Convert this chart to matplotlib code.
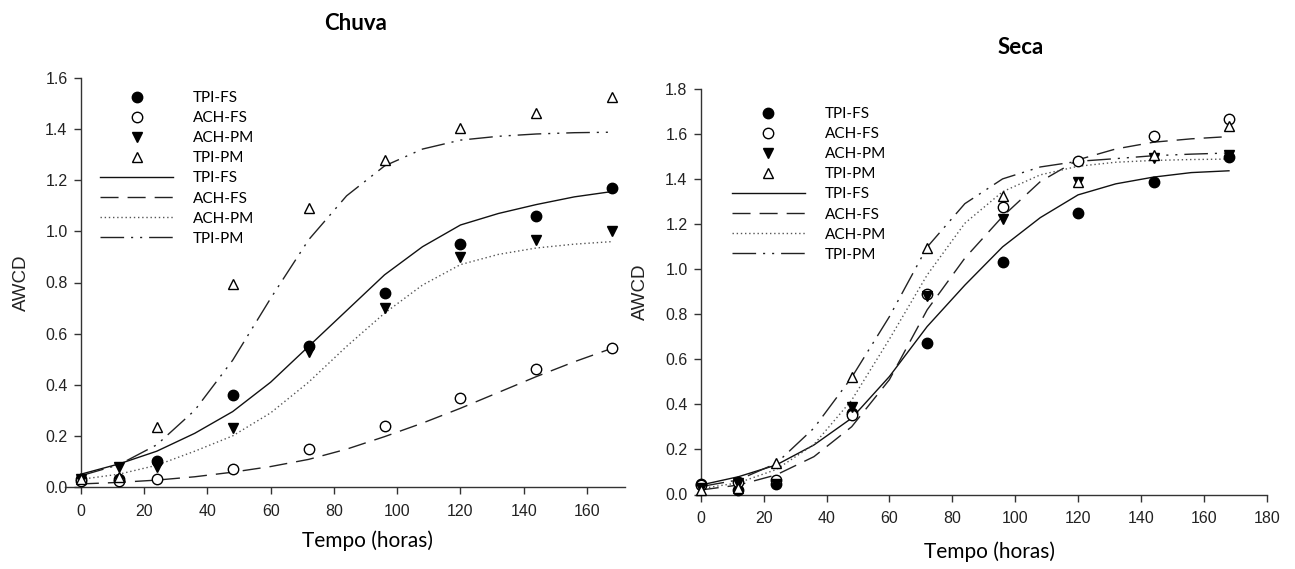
import numpy as np
import matplotlib
matplotlib.use('Agg')
import matplotlib.pyplot as plt

# sampling times (hours)
hours = [0, 12, 24, 48, 72, 96, 120, 144, 168]
hours_fit = [0, 12, 24, 36, 48, 60, 72, 84, 96, 108, 120, 132, 144, 156, 168]

# Chuva - observed AWCD
chuva_tpi_fs = [0.03, 0.03, 0.10, 0.36, 0.55, 0.76, 0.95, 1.06, 1.17]
chuva_ach_fs = [0.025, 0.025, 0.03, 0.07, 0.15, 0.24, 0.35, 0.46, 0.545]
chuva_ach_pm = [0.03, 0.078, 0.08, 0.23, 0.53, 0.70, 0.90, 0.965, 1.00]
chuva_tpi_pm = [0.03, 0.04, 0.235, 0.795, 1.093, 1.28, 1.404, 1.463, 1.524]

# Chuva - fitted curves
chuva_tpi_fs_fit = [0.05, 0.09, 0.14, 0.21, 0.295, 0.41, 0.55, 0.69, 0.83, 0.94, 1.025, 1.07, 1.105, 1.135, 1.156]
chuva_ach_fs_fit = [0.012, 0.018, 0.027, 0.04, 0.058, 0.08, 0.108, 0.148, 0.197, 0.25, 0.308, 0.37, 0.432, 0.49, 0.543]
chuva_ach_pm_fit = [0.03, 0.05, 0.085, 0.14, 0.20, 0.29, 0.41, 0.55, 0.68, 0.79, 0.87, 0.91, 0.935, 0.95, 0.96]
chuva_tpi_pm_fit = [0.044, 0.087, 0.165, 0.30, 0.496, 0.738, 0.967, 1.139, 1.256, 1.322, 1.357, 1.372, 1.381, 1.386, 1.388]

# Seca - observed AWCD
seca_tpi_fs = [0.045, 0.02, 0.047, 0.36, 0.672, 1.032, 1.25, 1.39, 1.499]
seca_ach_fs = [0.04, 0.055, 0.064, 0.353, 0.891, 1.275, 1.482, 1.593, 1.667]
seca_ach_pm = [0.03, 0.05, 0.045, 0.39, 0.882, 1.223, 1.39, 1.494, 1.509]
seca_tpi_pm = [0.02, 0.03, 0.141, 0.521, 1.094, 1.324, 1.39, 1.509, 1.635]

# Seca - fitted curves
seca_tpi_fs_fit = [0.042, 0.079, 0.131, 0.22, 0.339, 0.524, 0.746, 0.93, 1.10, 1.23, 1.331, 1.38, 1.41, 1.43, 1.438]
seca_ach_fs_fit = [0.02, 0.042, 0.087, 0.168, 0.301, 0.51, 0.82, 1.05, 1.235, 1.39, 1.487, 1.535, 1.565, 1.58, 1.59]
seca_ach_pm_fit = [0.026, 0.052, 0.111, 0.222, 0.419, 0.69, 0.975, 1.205, 1.345, 1.42, 1.458, 1.476, 1.484, 1.488, 1.49]
seca_tpi_pm_fit = [0.035, 0.065, 0.138, 0.295, 0.52, 0.79, 1.099, 1.292, 1.402, 1.455, 1.48, 1.492, 1.505, 1.512, 1.517]

labels = ['TPI-FS', 'ACH-FS', 'ACH-PM', 'TPI-PM']

LBL_FONT = 'Lato'
TICK_FONT = 'Liberation Sans'

long_dash = (0, (13, 6.5))
dotted = (0, (1, 2))
dash_dot_dot = (0, (17, 5, 1.5, 5, 1.5, 5))


def draw_panel(ax, obs, fits, xlim, ylim, yticks, xticks, legend_xy):
    fig = ax.figure
    line_styles = ['-', long_dash, dotted, dash_dot_dot]
    line_colors = ['#111111', '#222222', '#555555', '#222222']
    line_handles = []
    for fit, ls, c, lab in zip(fits, line_styles, line_colors, labels):
        h, = ax.plot(hours_fit, fit, linestyle=ls, color=c, lw=1.0, label=lab)
        line_handles.append(h)

    marker_specs = [('o', 'black'), ('o', 'white'), ('v', 'black'), ('^', 'white')]
    marker_handles = []
    for vals, (m, fc), lab in zip(obs, marker_specs, labels):
        h, = ax.plot(hours, vals, linestyle='none', marker=m, ms=7.5,
                     mfc=fc, mec='black', mew=1.0, label=lab, clip_on=False, zorder=5)
        marker_handles.append(h)

    ax.set_xlim(*xlim)
    ax.set_ylim(*ylim)
    ax.set_xticks(xticks)
    ax.set_yticks(yticks)
    ax.set_yticklabels(['%.1f' % v for v in yticks])
    ax.spines['top'].set_visible(False)
    ax.spines['right'].set_visible(False)
    ax.spines['left'].set_position(('data', 0))
    for s in ['left', 'bottom']:
        ax.spines[s].set_color('#333333')
        ax.spines[s].set_linewidth(1.0)
    ax.tick_params(direction='out', length=5, width=1, color='#333333',
                   labelsize=11.5, labelcolor='#222222')
    ax.tick_params(axis='x', pad=7)
    ax.tick_params(axis='y', pad=4.5)
    for t in ax.get_xticklabels() + ax.get_yticklabels():
        t.set_fontfamily(TICK_FONT)

    leg = ax.legend(handles=marker_handles + line_handles, loc='upper left',
                    bbox_to_anchor=legend_xy, bbox_transform=fig.transFigure,
                    frameon=False, numpoints=1, handlelength=4.8, handletextpad=1.3,
                    labelspacing=0.4, borderpad=0, borderaxespad=0,
                    prop={'family': LBL_FONT, 'size': 11})
    return leg


fig = plt.figure(figsize=(12.95, 5.69), dpi=100)
W, H = 1295.0, 569.0

ax1 = fig.add_axes([65 / W, 1 - 487 / H, 560 / W, 409 / H])
ax2 = fig.add_axes([695.7 / W, 1 - 494.5 / H, 571 / W, 405.2 / H])

draw_panel(ax1,
           [chuva_tpi_fs, chuva_ach_fs, chuva_ach_pm, chuva_tpi_pm],
           [chuva_tpi_fs_fit, chuva_ach_fs_fit, chuva_ach_pm_fit, chuva_tpi_pm_fit],
           (-5, 172), (0, 1.6), [0, 0.2, 0.4, 0.6, 0.8, 1.0, 1.2, 1.4, 1.6],
           [0, 20, 40, 60, 80, 100, 120, 140, 160], (100 / W, 1 - 91 / H))

draw_panel(ax2,
           [seca_tpi_fs, seca_ach_fs, seca_ach_pm, seca_tpi_pm],
           [seca_tpi_fs_fit, seca_ach_fs_fit, seca_ach_pm_fit, seca_tpi_pm_fit],
           (-1.6, 180), (0, 1.8), [0, 0.2, 0.4, 0.6, 0.8, 1.0, 1.2, 1.4, 1.6, 1.8],
           [0, 20, 40, 60, 80, 100, 120, 140, 160, 180], (731.7 / W, 1 - 107 / H))

# titles and axis labels
fig.text(356 / W, 1 - 23 / H, 'Chuva', ha='center', va='center',
         fontfamily=LBL_FONT, fontweight='bold', fontsize=16)
fig.text(1021 / W, 1 - 48 / H, 'Seca', ha='center', va='center',
         fontfamily=LBL_FONT, fontweight='bold', fontsize=16)
fig.text(368 / W, 1 - 541 / H, 'Tempo (horas)', ha='center', va='center',
         fontfamily=LBL_FONT, fontsize=15)
fig.text(990 / W, 1 - 552 / H, 'Tempo (horas)', ha='center', va='center',
         fontfamily=LBL_FONT, fontsize=15)
fig.text(21.7 / W, 1 - 282.5 / H, 'AWCD', ha='center', va='center', rotation=90,
         fontfamily=TICK_FONT, fontsize=13.5, color='#222222')
fig.text(640 / W, 1 - 292 / H, 'AWCD', ha='center', va='center', rotation=90,
         fontfamily=TICK_FONT, fontsize=13.5, color='#222222')

fig.savefig('out.png', dpi=100, facecolor='white')
